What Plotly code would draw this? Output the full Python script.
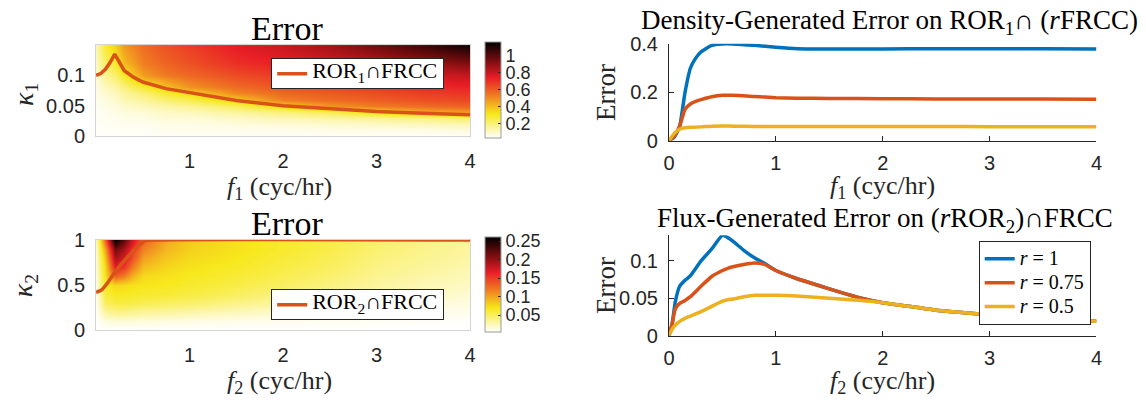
import numpy as np
import plotly.graph_objects as go

W, H = 1146, 409
def px(x): return x / W
def py(y): return 1 - y / H

# ---------------- data ----------------
# Top-left heatmap (f1 vs kappa1)
hm1_f = [0, 0.1, 0.2, 0.3, 0.5, 0.75, 1, 1.5, 2, 2.5, 3, 3.5, 4]
hm1_k = [0, 0.01, 0.02, 0.03, 0.04, 0.05, 0.06, 0.07, 0.08, 0.1, 0.12, 0.15]
hm1_cols = [
    [.04, .04, .04, .04, .04, .05, .05, .06, .07, .09, .11, .13],
    [.04, .04, .04, .05, .05, .06, .07, .09, .11, .16, .22, .28],
    [.04, .04, .05, .05, .06, .07, .09, .11, .14, .21, .29, .36],
    [.04, .04, .05, .06, .07, .09, .12, .15, .19, .30, .40, .47],
    [.04, .04, .05, .06, .08, .11, .15, .20, .28, .46, .52, .56],
    [.04, .05, .06, .08, .10, .14, .20, .28, .38, .53, .58, .62],
    [.04, .05, .06, .08, .11, .16, .24, .34, .48, .57, .62, .66],
    [.04, .05, .07, .10, .15, .23, .36, .50, .56, .63, .69, .74],
    [.04, .05, .08, .12, .19, .34, .52, .57, .61, .67, .73, .79],
    [.04, .06, .09, .14, .24, .47, .56, .60, .64, .70, .77, .86],
    [.04, .06, .10, .16, .34, .53, .59, .63, .67, .74, .82, .95],
    [.04, .06, .11, .18, .42, .56, .62, .66, .70, .77, .87, 1.04],
    [.04, .07, .12, .21, .46, .58, .64, .68, .72, .80, .92, 1.12],
]
curve1_f = [0, 0.05, 0.1, 0.15, 0.2, 0.25, 0.3, 0.4, 0.5, 0.75, 1, 1.5, 2, 2.5, 3, 3.5, 4]
curve1_k = [0.1, 0.103, 0.11, 0.121, 0.135, 0.12, 0.108, 0.097, 0.089, 0.078, 0.0716,
            0.0585, 0.0497, 0.0445, 0.0402, 0.0375, 0.035]

# Bottom-left heatmap (f2 vs kappa2)
hm2_f = [0, 0.1, 0.2, 0.3, 0.4, 0.5, 0.75, 1, 1.5, 2, 2.5, 3, 3.5, 4]
hm2_k = [0, 0.1, 0.2, 0.3, 0.4, 0.5, 0.6, 0.7, 0.8, 0.9, 1.0]
hm2_cols = [
    [.003, .004, .006, .008, .010, .012, .014, .016, .018, .020, .022],
    [.003, .012, .030, .048, .058, .065, .070, .075, .085, .100, .130],
    [.003, .014, .036, .056, .066, .075, .130, .165, .190, .215, .260],
    [.003, .014, .036, .056, .066, .072, .115, .150, .170, .190, .220],
    [.003, .014, .034, .054, .064, .070, .090, .115, .135, .150, .170],
    [.003, .013, .032, .052, .062, .068, .074, .087, .100, .115, .130],
    [.003, .012, .030, .048, .060, .066, .070, .075, .082, .090, .095],
    [.003, .011, .027, .045, .056, .062, .066, .070, .074, .078, .080],
    [.003, .009, .022, .037, .048, .055, .060, .064, .067, .070, .070],
    [.003, .008, .018, .030, .040, .047, .052, .056, .059, .062, .062],
    [.003, .007, .015, .024, .032, .039, .044, .048, .051, .054, .054],
    [.003, .006, .011, .018, .025, .030, .034, .037, .040, .043, .044],
    [.003, .005, .009, .014, .020, .024, .028, .031, .034, .036, .037],
    [.003, .005, .008, .012, .016, .020, .023, .026, .028, .030, .031],
]
curve2_f = [0, 0.06, 0.13, 0.2, 0.31, 0.42, 0.52, 0.58, 4.0]
curve2_k = [0.418, 0.446, 0.533, 0.64, 0.78, 0.9, 0.99, 1.0, 1.0]

# Top-right: density-generated error
dens_f = [0, 0.05, 0.1, 0.15, 0.2, 0.25, 0.3, 0.4, 0.5, 0.6, 0.8, 1.0, 1.2, 1.5, 2.0, 2.5, 3.0, 3.5, 4.0]
dens_r1 = [0, 0.015, 0.06, 0.2, 0.3, 0.342, 0.368, 0.395, 0.401, 0.401, 0.395, 0.387, 0.381,
           0.380, 0.380, 0.381, 0.381, 0.381, 0.380]
dens_r075 = [0, 0.02, 0.06, 0.13, 0.152, 0.163, 0.17, 0.182, 0.188, 0.188, 0.183, 0.178, 0.176,
             0.175, 0.174, 0.173, 0.173, 0.173, 0.172]
dens_r05 = [0, 0.03, 0.048, 0.053, 0.055, 0.056, 0.057, 0.06, 0.061, 0.06, 0.059, 0.059, 0.059,
            0.059, 0.059, 0.059, 0.058, 0.058, 0.057]

# Bottom-right: flux-generated error
flux_f = [0, 0.03, 0.06, 0.1, 0.15, 0.2, 0.3, 0.4, 0.5, 0.55, 0.6, 0.7, 0.8, 0.9, 1.0, 1.2, 1.4,
          1.6, 1.8, 2.0, 2.2, 2.5, 3.0, 3.5, 4.0]
flux_r1 = [0, 0.016, 0.046, 0.066, 0.074, 0.08, 0.10, 0.116, 0.134, 0.131, 0.126, 0.114, 0.104,
           0.096, 0.087, 0.076, 0.067, 0.058, 0.05, 0.044, 0.04, 0.034, 0.028, 0.0226, 0.019]
flux_r075 = [0, 0.016, 0.036, 0.043, 0.047, 0.052, 0.066, 0.079, 0.087, 0.09, 0.092, 0.095, 0.097,
             0.095, 0.087, 0.076, 0.067, 0.058, 0.05, 0.044, 0.04, 0.034, 0.028, 0.0226, 0.019]
flux_r05 = [0, 0.0085, 0.014, 0.019, 0.023, 0.026, 0.032, 0.039, 0.046, 0.048, 0.049, 0.052, 0.054,
            0.054, 0.054, 0.053, 0.051, 0.049, 0.047, 0.044, 0.04, 0.034, 0.028, 0.0226, 0.019]

series_names = ["<i>r</i> = 1", "<i>r</i> = 0.75", "<i>r</i> = 0.5"]
series_colors = ["#0072BD", "#D95319", "#EDB120"]

cb1_ticks = [0.2, 0.4, 0.6, 0.8, 1]
cb2_ticks = [0.05, 0.1, 0.15, 0.2, 0.25]

# ---------------- styling ----------------
hot_r = [[0.0, "#ffffff"], [0.25, "#f7e81c"], [0.44, "#f07e22"], [0.625, "#e91e26"],
         [0.82, "#700c0e"], [1.0, "#000000"]]
SANS = "Liberation Sans"
SERIF = "Liberation Serif"
TXT = "#262626"
tickfont = dict(family=SANS, size=20, color=TXT)
cbfont = dict(family=SANS, size=18, color=TXT)

def big(s, size):
    # legend label drawn larger than the (compact) legend row height
    return f'<span style="font-size:{size}px">{s}</span>'

fig = go.Figure()

z1 = np.array(hm1_cols).T
fig.add_trace(go.Heatmap(
    x=hm1_f, y=hm1_k, z=z1, zsmooth="best", colorscale=hot_r, zmin=0.03, zmax=1.15,
    xaxis="x", yaxis="y", hoverinfo="skip",
    colorbar=dict(x=px(484), xanchor="left", xpad=0, ypad=0, y=py(84), yanchor="middle",
                  len=96, lenmode="pixels", thickness=16, thicknessmode="pixels",
                  outlinewidth=1, outlinecolor="#9a9a9a",
                  tickvals=cb1_ticks, ticktext=["0.2", "0.4", "0.6", "0.8", "1"],
                  ticks="inside", ticklen=3, tickcolor=TXT, tickfont=cbfont)))
fig.add_trace(go.Scatter(x=curve1_f, y=curve1_k, mode="lines", xaxis="x", yaxis="y",
                         line=dict(color="#D95319", width=3.5),
                         name=big("ROR<sub>1</sub>∩FRCC", 22), legend="legend"))

z2 = np.array(hm2_cols).T
fig.add_trace(go.Heatmap(
    x=hm2_f, y=hm2_k, z=z2, zsmooth="best", colorscale=hot_r, zmin=0.003, zmax=0.26,
    xaxis="x2", yaxis="y2", hoverinfo="skip",
    colorbar=dict(x=px(484), xanchor="left", xpad=0, ypad=0, y=py(289.5), yanchor="middle",
                  len=95, lenmode="pixels", thickness=16, thicknessmode="pixels",
                  outlinewidth=1, outlinecolor="#9a9a9a",
                  tickvals=cb2_ticks, ticktext=["0.05", "0.1", "0.15", "0.2", "0.25"],
                  ticks="inside", ticklen=3, tickcolor=TXT, tickfont=cbfont)))
fig.add_trace(go.Scatter(x=curve2_f, y=curve2_k, mode="lines", xaxis="x2", yaxis="y2",
                         line=dict(color="#D95319", width=3.5, shape="spline", smoothing=0.6),
                         name=big("ROR<sub>2</sub>∩FRCC", 22), legend="legend2",
                         cliponaxis=False))

for ys, nm, c in zip([dens_r1, dens_r075, dens_r05], series_names, series_colors):
    fig.add_trace(go.Scatter(x=dens_f, y=ys, mode="lines", xaxis="x3", yaxis="y3",
                             line=dict(color=c, width=3.5, shape="spline", smoothing=0.5),
                             name=nm, showlegend=False))
for ys, nm, c in zip([flux_r1, flux_r075, flux_r05], series_names, series_colors):
    fig.add_trace(go.Scatter(x=flux_f, y=ys, mode="lines", xaxis="x4", yaxis="y4",
                             line=dict(color=c, width=3.5, shape="spline", smoothing=0.5),
                             name=big(nm, 20), legend="legend3"))

hm_x = dict(range=[0, 4], tickvals=[1, 2, 3, 4], ticktext=["1", "2", "3", "4"],
            showline=True, mirror=True, linecolor="#d4d4d4", linewidth=1, ticks="",
            showgrid=False, zeroline=False, tickfont=tickfont, ticklabelstandoff=7)
ln_x = dict(range=[0, 4], tickvals=[0, 1, 2, 3, 4], ticktext=["0", "1", "2", "3", "4"],
            showline=True, linecolor=TXT, linewidth=1, ticks="inside", ticklen=5,
            tickcolor=TXT, showgrid=False, zeroline=False, tickfont=tickfont,
            ticklabelstandoff=4)
ln_y = dict(showline=True, linecolor=TXT, linewidth=1, ticks="inside", ticklen=5,
            tickcolor=TXT, showgrid=False, zeroline=False, tickfont=tickfont,
            ticklabelstandoff=6)

fig.update_layout(
    width=W, height=H, margin=dict(l=0, r=0, t=0, b=0),
    paper_bgcolor="white", plot_bgcolor="white",
    xaxis=dict(domain=[px(91), px(469)], anchor="y", **hm_x),
    yaxis=dict(domain=[py(132), py(36)], anchor="x", range=[0, 0.15],
               tickvals=[0, 0.05, 0.1], ticktext=["0", "0.05", "0.1"],
               showline=True, mirror=True, linecolor="#d4d4d4", ticks="", showgrid=False,
               zeroline=False, tickfont=tickfont, ticklabelstandoff=6),
    xaxis2=dict(domain=[px(91), px(469)], anchor="y2", **hm_x),
    yaxis2=dict(domain=[py(337), py(242)], anchor="x2", range=[0, 1],
                tickvals=[0, 0.5, 1], ticktext=["0", "0.5", "1"],
                showline=True, mirror=True, linecolor="#d4d4d4", ticks="", showgrid=False,
                zeroline=False, tickfont=tickfont, ticklabelstandoff=6),
    xaxis3=dict(domain=[px(670), px(1102)], anchor="y3", **ln_x),
    yaxis3=dict(domain=[py(137), py(34.5)], anchor="x3", range=[0, 0.402],
                tickvals=[0, 0.2, 0.4], ticktext=["0", "0.2", "0.4"], **ln_y),
    xaxis4=dict(domain=[px(670), px(1102)], anchor="y4", **ln_x),
    yaxis4=dict(domain=[py(343), py(237)], anchor="x4", range=[0, 0.1342],
                tickvals=[0, 0.05, 0.1], ticktext=["0", "0.05", "0.1"], **ln_y),
    legend=dict(x=px(268), y=py(50), xanchor="left", yanchor="top", bgcolor="white",
                bordercolor=TXT, borderwidth=1,
                font=dict(family=SERIF, size=12, color="black"), itemwidth=30, tracegroupgap=0),
    legend2=dict(x=px(268), y=py(294), xanchor="left", yanchor="top", bgcolor="white",
                 bordercolor=TXT, borderwidth=1,
                 font=dict(family=SERIF, size=12, color="black"), itemwidth=30, tracegroupgap=0),
    legend3=dict(x=px(983), y=py(243), xanchor="left", yanchor="top", bgcolor="white",
                 bordercolor=TXT, borderwidth=1,
                 font=dict(family=SERIF, size=16, color="black"), itemwidth=30, tracegroupgap=0),
    showlegend=True,
)

def ann(text, x, y, size, angle=0, color="black"):
    fig.add_annotation(text=text, x=px(x), y=py(y), xref="paper", yref="paper",
                       xanchor="center", yanchor="middle", showarrow=False, textangle=angle,
                       font=dict(family=SERIF, size=size, color=color))

ann("Error", 284, 18, 34)
ann("Error", 284, 225, 34)
ann("Density-Generated Error on ROR<sub>1</sub>∩ (<i>r</i>FRCC)", 893, 12, 27)
ann("Flux-Generated Error on (<i>r</i>ROR<sub>2</sub>)∩FRCC", 888, 221, 27)
ann("<i>f</i><sub>1</sub> (cyc/hr)", 276, 187, 26, color=TXT)
ann("<i>f</i><sub>2</sub> (cyc/hr)", 276, 392, 26, color=TXT)
ann("<i>f</i><sub>1</sub> (cyc/hr)", 886, 186, 26, color=TXT)
ann("<i>f</i><sub>2</sub> (cyc/hr)", 886, 392, 26, color=TXT)
ann("<i>κ</i><sub>1</sub>", 19, 88, 28, angle=-90, color=TXT)
ann("<i>κ</i><sub>2</sub>", 19, 290, 28, angle=-90, color=TXT)
ann("Error", 607, 86, 27, angle=-90, color=TXT)
ann("Error", 607, 290, 27, angle=-90, color=TXT)

fig.write_html("out.html")
